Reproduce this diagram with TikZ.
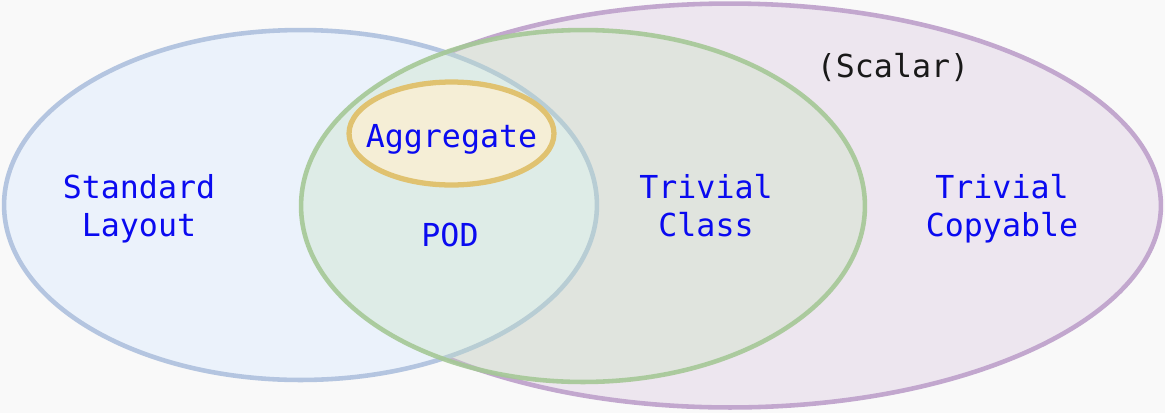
\documentclass[tikz,border=0pt]{standalone}
\usepackage{fontspec}
\setmonofont{DejaVu Sans Mono}
\usetikzlibrary{shapes.geometric}

\definecolor{bgcol}{HTML}{F9F9F9}
\definecolor{stdline}{HTML}{B4C5E0}
\definecolor{stdfill}{HTML}{EBF2FB}
\definecolor{trvline}{HTML}{A5C896}
\definecolor{trvfill}{HTML}{C2E0BA}
\definecolor{cpyline}{HTML}{C2A7CE}
\definecolor{cpyfill}{HTML}{EDE6EF}
\definecolor{aggline}{HTML}{E0C270}
\definecolor{aggfill}{HTML}{F5EED6}
\definecolor{txtblue}{RGB}{10,10,240}

\begin{document}
\begin{tikzpicture}[
    x=0.02cm, y=-0.02cm,
    set/.style={ellipse, draw, inner sep=0pt, outer sep=0pt, line width=2.6pt},
    lbl/.style={font=\ttfamily\fontsize{18}{21.6}\selectfont, text=txtblue, anchor=base, inner sep=0pt},
]
    % background
    \fill[bgcol] (0,0) rectangle (1165,413);
    \useasboundingbox (0,0) rectangle (1165,413);

    % the sets
    \node[set, draw=cpyline, fill=cpyfill, minimum width=17.24cm, minimum height=8.08cm] (copyable) at (730,205.5) {};
    \node[set, draw=stdline, fill=stdfill, minimum width=11.86cm, minimum height=7cm] (stdlayout) at (300.5,205) {};
    \node[set, draw=trvline, draw opacity=0.9, fill=trvfill, fill opacity=0.3, minimum width=11.28cm, minimum height=7.04cm] (trivial) at (583,206) {};
    \node[set, draw=aggline, fill=aggfill, line width=3pt, minimum width=4.1cm, minimum height=2.06cm] (aggregate) at (451.5,133.5) {};

    % labels (placed on their baselines)
    \node[lbl] (std1) at (139,198) {Standard};
    \node[lbl] (std2) at (139,236) {Layout};
    \node[lbl] (podtxt) at (450,246) {POD};
    \node[lbl] (aggtxt) at (451.5,147) {Aggregate};
    \node[lbl] (trv1) at (706,198) {Trivial};
    \node[lbl] (trv2) at (706,236) {Class};
    \node[lbl] (cpy1) at (1002,198) {Trivial};
    \node[lbl] (cpy2) at (1002,236) {Copyable};
    \node[lbl, text=black!90] (scalar) at (893,77) {(Scalar)};
\end{tikzpicture}
\end{document}
